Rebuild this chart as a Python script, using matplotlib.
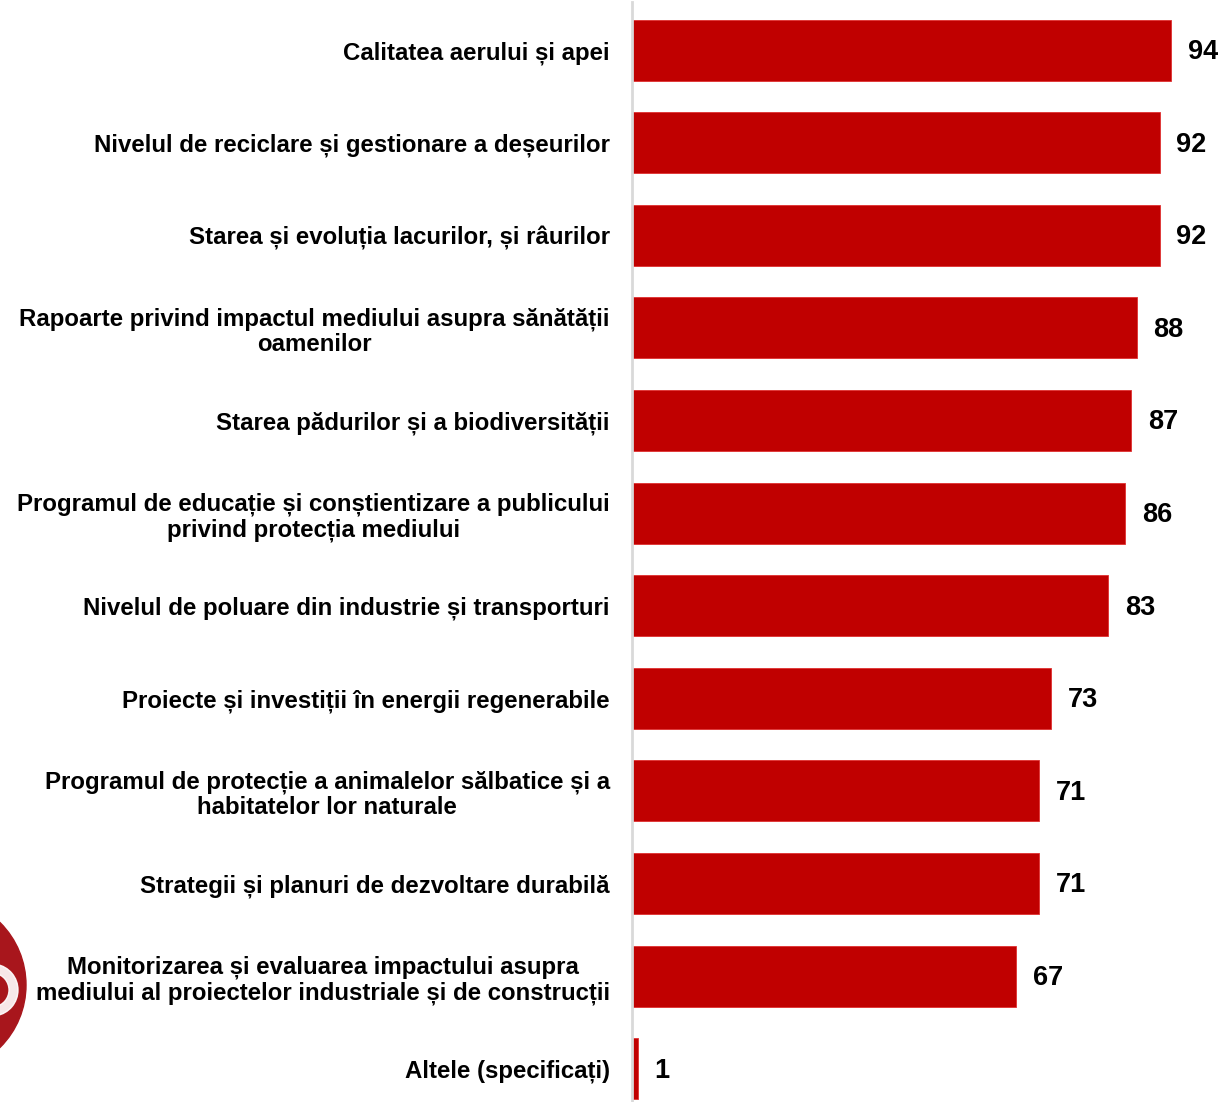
import matplotlib
matplotlib.use("Agg")
import matplotlib.pyplot as plt
from matplotlib.patches import Circle, Wedge

categories = [
    "Calitatea aerului și apei",
    "Nivelul de reciclare și gestionare a deșeurilor",
    "Starea și evoluția lacurilor, și râurilor",
    "Rapoarte privind impactul mediului asupra sănătății\noamenilor",
    "Starea pădurilor și a biodiversității",
    "Programul de educație și conștientizare a publicului\nprivind protecția mediului",
    "Nivelul de poluare din industrie și transporturi",
    "Proiecte și investiții în energii regenerabile",
    "Programul de protecție a animalelor sălbatice și a\nhabitatelor lor naturale",
    "Strategii și planuri de dezvoltare durabilă",
    "Monitorizarea și evaluarea impactului asupra\nmediului al proiectelor industriale și de construcții",
    "Altele (specificați)",
]
values = [94, 92, 92, 88, 87, 86, 83, 73, 71, 71, 67, 1]

plt.rcParams['font.family'] = ['Liberation Sans', 'DejaVu Sans']

W, H = 1220, 1102
fig = plt.figure(figsize=(W / 100, H / 100), dpi=100)
ax = fig.add_axes([632 / W, 0.0, 1 - 632 / W, 1100 / H])

y = list(range(len(values)))
ax.barh(y, values, height=0.66, color="#C00000", edgecolor="#E03030", linewidth=0.6)
ax.set_ylim(11.36, -0.52)
ax.set_xlim(0, 102.5)

for yi, v in zip(y, values):
    ax.text(v + 2.9, yi + 0.02, str(v), va="center", ha="left", fontsize=19.5,
            fontweight="bold", color="black")

ax.set_yticks(y)
ax.set_yticklabels(categories, fontsize=17.3, fontweight="bold",
                   multialignment="center", linespacing=1.15)
ax.tick_params(axis="y", length=0, pad=16)
ax.set_xticks([])
for s in ["top", "right", "bottom"]:
    ax.spines[s].set_visible(False)
ax.spines["left"].set_color("#D9D9D9")
ax.spines["left"].set_linewidth(2)

# partial logo at bottom-left
lax = fig.add_axes([0, 0, 1, 1], zorder=-1)
lax.set_xlim(0, W)
lax.set_ylim(H, 0)
lax.axis("off")
lax.add_patch(Circle((-62, 985), 88, color="#A8161C"))
lax.add_patch(Wedge((-8, 990), 26, -80, 80, width=9, color="white", alpha=0.9))

fig.savefig("out.png", dpi=100)
